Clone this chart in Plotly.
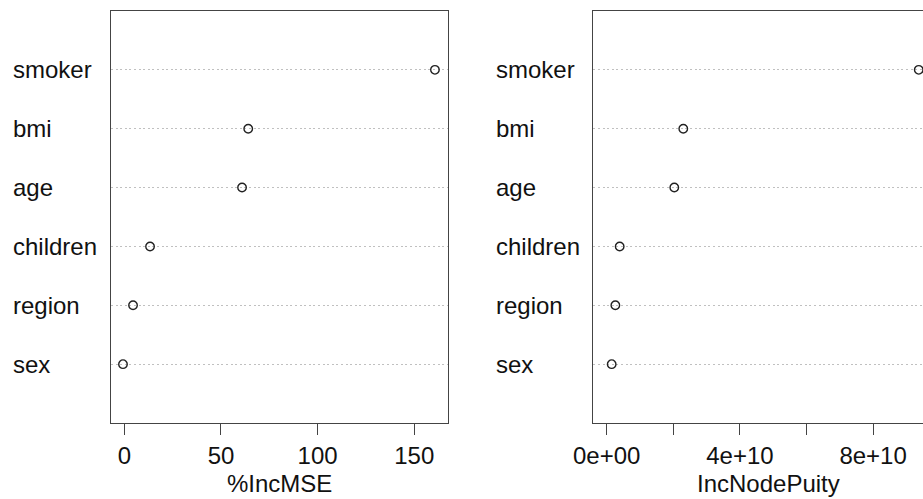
import plotly.graph_objects as go

# ---- data (bottom row first, as in R's dotchart) ----
features = ["sex", "region", "children", "age", "bmi", "smoker"]
inc_mse = [-0.7, 4.5, 13.3, 60.9, 64.1, 160.7]
inc_node_purity = [0.15e10, 0.26e10, 0.39e10, 2.03e10, 2.30e10, 9.37e10]

mse_ticks = [0, 50, 100, 150]
mse_ticktext = ["0", "50", "100", "150"]
inp_ticks = [0, 2e10, 4e10, 6e10, 8e10]
inp_ticktext = ["0e+00", "", "4e+10", "", "8e+10"]

xtitle_left = "%IncMSE"
xtitle_right = "IncNodePuity"

W, H = 923, 499
FONT = "Liberation Sans, Arial, Helvetica, sans-serif"
FS = 24
LINE = "#444444"
TXT = "#111111"

rows = list(range(1, len(features) + 1))

fig = go.Figure()

marker = dict(symbol="circle-open", size=8.5, color="#222222", line=dict(width=1.4, color="#222222"))

fig.add_trace(go.Scatter(x=inc_mse, y=rows, mode="markers", marker=marker,
                         xaxis="x", yaxis="y", showlegend=False, hoverinfo="x+text",
                         text=features))
fig.add_trace(go.Scatter(x=inc_node_purity, y=rows, mode="markers", marker=marker,
                         xaxis="x2", yaxis="y2", showlegend=False, hoverinfo="x+text",
                         text=features))

left_dom = [111 / W, 447.7 / W]
right_dom = [593.3 / W, 1.0]
y_dom = [1 - 423 / H, 1 - 11 / H]

xcommon = dict(showgrid=False, zeroline=False, showline=True, linecolor=LINE, linewidth=1.3,
               ticks="outside", ticklen=11, tickwidth=1.3, tickcolor=LINE, automargin=False,
               tickfont=dict(family=FONT, size=FS, color=TXT), mirror=True)
ycommon = dict(range=[0, 7], showgrid=True, gridcolor="#c0c0c0", griddash="2px,2.6px", gridwidth=1,
               zeroline=False, showline=True, linecolor=LINE, linewidth=1.3, automargin=False,
               tickvals=rows, showticklabels=False, ticks="", domain=y_dom)

fig.update_layout(
    template="none",
    width=W, height=H,
    margin=dict(l=0, r=0, t=0, b=0, pad=0),
    paper_bgcolor="white", plot_bgcolor="white",
    font=dict(family=FONT, size=FS, color=TXT),
    xaxis=dict(domain=left_dom, range=[-6.9, 167.3], tickvals=mse_ticks, ticktext=mse_ticktext,
               anchor="y", **xcommon),
    yaxis=dict(anchor="x", mirror=True, **ycommon),
    xaxis2=dict(domain=right_dom, range=[-0.402e10, 9.498e10], tickvals=inp_ticks, ticktext=inp_ticktext,
                anchor="y2", **xcommon),
    yaxis2=dict(anchor="x2", mirror=False, **ycommon),
)

annotations = []
for r, name in zip(rows, features):
    annotations.append(dict(x=11 / W, xref="paper", y=r, yref="y", text=name, showarrow=False,
                            xanchor="left", yanchor="middle", font=dict(family=FONT, size=FS, color=TXT)))
    annotations.append(dict(x=493.7 / W, xref="paper", y=r, yref="y2", text=name, showarrow=False,
                            xanchor="left", yanchor="middle", font=dict(family=FONT, size=FS, color=TXT)))

annotations.append(dict(x=279.3 / W, xref="paper", y=0, yref="paper", text=xtitle_left, showarrow=False,
                        xanchor="center", yanchor="bottom", font=dict(family=FONT, size=FS, color=TXT)))
annotations.append(dict(x=768 / W, xref="paper", y=0, yref="paper", text=xtitle_right, showarrow=False,
                        xanchor="center", yanchor="bottom", font=dict(family=FONT, size=FS, color=TXT)))
fig.update_layout(annotations=annotations)

fig.write_html("out.html")
